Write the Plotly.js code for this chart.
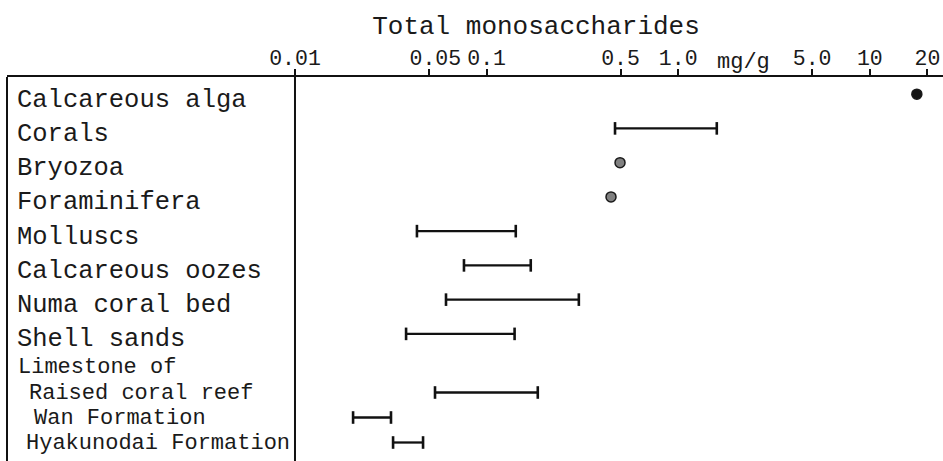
<!DOCTYPE html>
<html>
<head>
<meta charset="utf-8">
<script src="https://cdn.plot.ly/plotly-3.0.1.min.js"></script>
<style>html,body{margin:0;padding:0;background:#fff;}#chart{width:943px;height:461px;}</style>
</head>
<body>
<div id="chart"></div>
<script>
// ---- data ----
var topCategories = ["Calcareous alga", "Corals", "Bryozoa", "Foraminifera", "Molluscs",
                     "Calcareous oozes", "Numa coral bed", "Shell sands"];
var limestoneHeader = "Limestone of";
var limestoneCategories = ["Raised coral reef", "Wan Formation", "Hyakunodai Formation"];

var rangeCategories = ["Corals", "Molluscs", "Calcareous oozes", "Numa coral bed", "Shell sands",
                       "Raised coral reef", "Wan Formation", "Hyakunodai Formation"];
var rangeLow  = [0.468, 0.0433, 0.0762, 0.0614, 0.0380, 0.0538, 0.0201, 0.0325];
var rangeHigh = [1.59,  0.142,  0.170,  0.303,  0.140,  0.185,  0.0317, 0.0466];

var pointCategories = ["Calcareous alga", "Bryozoa", "Foraminifera"];
var pointValues = [17.6, 0.497, 0.446];

var tickValues = [0.01, 0.05, 0.1, 0.5, 1, 5, 10, 20];
var tickLabels = ["0.01", "\u00a00.05", "0.1", "0.5", "1.0", "5.0", "10", "20"];
var unitLabel = "mg/g";
var unitPosition = 2.2;
var titleText = "Total monosaccharides";

// ---- layout constants ----
var W = 943, H = 461;
var FONT = "Liberation Mono, Courier New, monospace";
var axisLineY = 77;
var topBottomPx = 351;
var botTopPx = 355, botBottomPx = 455;
var yTopDomain = [1 - topBottomPx / H, 1 - axisLineY / H];
var yBotDomain = [1 - botBottomPx / H, 1 - botTopPx / H];

function buildRange(cats) {
  var x = [], y = [];
  rangeCategories.forEach(function (c, i) {
    if (cats.indexOf(c) >= 0) {
      x.push(rangeLow[i], rangeHigh[i], null);
      y.push(c, c, null);
    }
  });
  return {x: x, y: y};
}
var rTop = buildRange(topCategories);
var rBot = buildRange(limestoneCategories);

var rangeStyle = {
  mode: 'lines+markers',
  line: {color: '#111', width: 2.3},
  marker: {symbol: 'line-ns', size: 9, line: {color: '#111', width: 2.6}},
  hoverinfo: 'skip', showlegend: false, cliponaxis: false
};

var traces = [
  Object.assign({type: 'scatter', x: rTop.x, y: rTop.y, xaxis: 'x', yaxis: 'y'}, rangeStyle),
  Object.assign({type: 'scatter', x: rBot.x, y: rBot.y, xaxis: 'x', yaxis: 'y2'}, rangeStyle),
  {
    type: 'scatter', mode: 'markers', x: pointValues, y: pointCategories,
    xaxis: 'x', yaxis: 'y', showlegend: false, hoverinfo: 'skip', cliponaxis: false,
    marker: {
      size: 10,
      color: pointCategories.map(function (c, i) { return i === 0 ? '#151515' : '#808080'; }),
      line: {color: '#1a1a1a', width: 1.5}
    }
  }
];

var annotations = [];
topCategories.forEach(function (c) {
  annotations.push({
    text: c, xref: 'paper', x: 0, xanchor: 'left', xshift: 8,
    yref: 'y', y: c, yanchor: 'middle', yshift: -6, showarrow: false,
    font: {family: FONT, size: 25.5, color: '#1a1a1a'}
  });
});
annotations.push({
  text: limestoneHeader, xref: 'paper', x: 0, xanchor: 'left', xshift: 9,
  yref: 'y2', y: -1, yanchor: 'middle', showarrow: false,
  font: {family: FONT, size: 22, color: '#1a1a1a'}
});
var subIndent = {"Raised coral reef": 20, "Wan Formation": 25, "Hyakunodai Formation": 17};
limestoneCategories.forEach(function (c) {
  annotations.push({
    text: c, xref: 'paper', x: 0, xanchor: 'left', xshift: subIndent[c],
    yref: 'y2', y: c, yanchor: 'middle', yshift: -1, showarrow: false,
    font: {family: FONT, size: 22, color: '#1a1a1a'}
  });
});
annotations.push({
  text: unitLabel, xref: 'x', x: Math.log10(unitPosition), xanchor: 'center',
  yref: 'paper', y: 1 - 62 / H, yanchor: 'middle', showarrow: false,
  font: {family: FONT, size: 22, color: '#1a1a1a'}
});

var layout = {
  width: W, height: H,
  margin: {l: 7, r: 0, t: 0, b: 0, pad: 0},
  paper_bgcolor: '#fff', plot_bgcolor: '#fff',
  font: {family: FONT, color: '#1a1a1a'},
  title: {
    text: titleText, xref: 'container', x: 536 / W, xanchor: 'center',
    yref: 'container', y: 1 - 25 / H, yanchor: 'middle',
    font: {family: FONT, size: 26, color: '#1a1a1a'}
  },
  xaxis: {
    type: 'log', side: 'top', anchor: 'y',
    range: [-3.503, 1.382],
    tickmode: 'array', tickvals: tickValues, ticktext: tickLabels,
    ticks: 'outside', ticklen: 6, tickwidth: 2, tickcolor: '#111',
    ticklabelstandoff: -5,
    tickfont: {family: FONT, size: 21.5, color: '#1a1a1a'},
    showline: true, linewidth: 2, linecolor: '#111',
    showgrid: false, zeroline: false, fixedrange: true
  },
  yaxis: {
    type: 'category', categoryorder: 'array', categoryarray: topCategories,
    range: [topCategories.length - 0.5, -0.5], domain: yTopDomain, anchor: 'x',
    showticklabels: false, ticks: '', showgrid: false, zeroline: false, showline: false, fixedrange: true
  },
  yaxis2: {
    type: 'category', categoryorder: 'array', categoryarray: limestoneCategories,
    range: [limestoneCategories.length - 0.5, -1.5], domain: yBotDomain, anchor: 'x',
    showticklabels: false, ticks: '', showgrid: false, zeroline: false, showline: false, fixedrange: true
  },
  shapes: [
    {type: 'line', xref: 'paper', x0: 0, x1: 0, yref: 'paper', y0: 0, y1: yTopDomain[1],
     line: {color: '#111', width: 2}},
    {type: 'line', xref: 'x', x0: tickValues[0], x1: tickValues[0], yref: 'paper', y0: 0, y1: yTopDomain[1],
     line: {color: '#111', width: 2}}
  ],
  annotations: annotations
};

Plotly.newPlot('chart', traces, layout, {displayModeBar: false, staticPlot: true});
</script>
</body>
</html>
